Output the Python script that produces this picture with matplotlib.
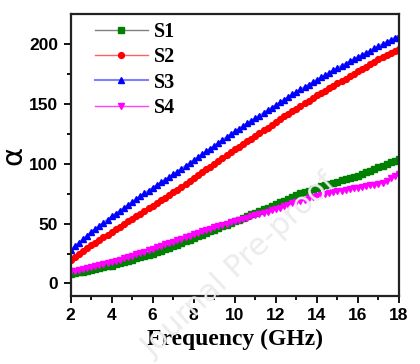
import matplotlib.pyplot as plt
import numpy as np

freq = np.arange(2.0, 18.01, 0.2)

s1 = [8, 8.6, 9.2, 9.8, 10.4, 11, 11.8, 12.6, 13.4, 14.2,
      15, 16, 17, 18, 19, 20, 21, 22, 23, 24,
      25, 26.2, 27.4, 28.6, 29.8, 31, 32.4, 33.8, 35.2, 36.6,
      38, 39.4, 40.8, 42.2, 43.6, 45, 46.4, 47.8, 49.2, 50.6,
      52, 53.4, 54.8, 56.2, 57.6, 59, 60.4, 61.8, 63.2, 64.6,
      66, 67.6, 69.2, 70.8, 72.4, 74, 75.2, 76.4, 77.6, 78.8,
      80, 81, 82, 83, 84, 85, 86, 87, 88, 89,
      90, 91.4, 92.8, 94.2, 95.6, 97, 98.4, 99.8, 101.2, 102.6,
      104]
s2 = [20, 22.4, 24.8, 27.2, 29.6, 32, 34.2, 36.4, 38.6, 40.8,
      43, 45.2, 47.4, 49.6, 51.8, 54, 56.2, 58.4, 60.6, 62.8,
      65, 67.2, 69.4, 71.6, 73.8, 76, 78.4, 80.8, 83.2, 85.6,
      88, 90.4, 92.8, 95.2, 97.6, 100, 102.4, 104.8, 107.2, 109.6,
      112, 114.2, 116.4, 118.6, 120.8, 123, 125.4, 127.8, 130.2, 132.6,
      135, 137.2, 139.4, 141.6, 143.8, 146, 148.2, 150.4, 152.6, 154.8,
      157, 159, 161, 163, 165, 167, 169, 171, 173, 175,
      177, 179, 181, 183, 185, 187, 188.8, 190.6, 192.4, 194.2,
      196]
s3 = [28, 31, 34, 37, 40, 43, 45.6, 48.2, 50.8, 53.4,
      56, 58.4, 60.8, 63.2, 65.6, 68, 70.4, 72.8, 75.2, 77.6,
      80, 82.2, 84.4, 86.6, 88.8, 91, 93.4, 95.8, 98.2, 100.6,
      103, 105.4, 107.8, 110.2, 112.6, 115, 117.4, 119.8, 122.2, 124.6,
      127, 129.2, 131.4, 133.6, 135.8, 138, 140.2, 142.4, 144.6, 146.8,
      149, 151.2, 153.4, 155.6, 157.8, 160, 162, 164, 166, 168,
      170, 172, 174, 176, 178, 180, 181.8, 183.6, 185.4, 187.2,
      189, 190.8, 192.6, 194.4, 196.2, 198, 199.8, 201.6, 203.4, 205.2,
      207]
s4 = [10, 10.8, 11.6, 12.4, 13.2, 14, 14.8, 15.6, 16.4, 17.2,
      18, 19, 20, 21, 22, 23, 24.2, 25.4, 26.6, 27.8,
      29, 30.2, 31.4, 32.6, 33.8, 35, 36.2, 37.4, 38.6, 39.8,
      41, 42.2, 43.4, 44.6, 45.8, 47, 48, 49, 50, 51,
      52, 53, 54, 55, 56, 57, 58, 59, 60, 61,
      62, 63.2, 64.4, 65.6, 66.8, 68, 69, 70, 71, 72,
      73, 73.8, 74.6, 75.4, 76.2, 77, 77.6, 78.2, 78.8, 79.4,
      80, 80.6, 81.2, 81.8, 82.4, 83, 84, 85.8, 87.8, 89.6,
      91]

fig = plt.figure(figsize=(4.2, 3.64), dpi=100)
ax = fig.add_axes([0.168, 0.187, 0.782, 0.774])

ax.plot(freq, s1, color='#808080', lw=1, marker='s', ms=3.8, mfc='#008000', mec='#008000', label='S1')
ax.plot(freq, s2, color='#ff6060', lw=1, marker='o', ms=4.2, mfc='red', mec='red', label='S2')
ax.plot(freq, s3, color='#8080ff', lw=1.5, marker='^', ms=4.5, mfc='blue', mec='blue', label='S3')
ax.plot(freq, s4, color='#ff40ff', lw=1, marker='v', ms=4.5, mfc='magenta', mec='magenta', label='S4')

ax.set_xlim(2, 18)
ax.set_ylim(-10.4, 224.8)
ax.set_xticks(np.arange(2, 19, 2))
ax.set_xticks(np.arange(3, 18, 2), minor=True)
ax.set_yticks(np.arange(0, 201, 50))
ax.set_yticks(np.arange(25, 201, 50), minor=True)
ax.tick_params(which='major', direction='out', length=5, width=1.3, pad=4)
ax.tick_params(which='minor', direction='out', length=3, width=1.3)
for lab in ax.get_xticklabels() + ax.get_yticklabels():
    lab.set_family('Liberation Sans')
    lab.set_fontweight('bold')
    lab.set_fontsize(12.5)
for sp in ax.spines.values():
    sp.set_linewidth(1.6)
    sp.set_color('#222222')

ax.set_xlabel('Frequency (GHz)', family='Liberation Serif', fontweight='bold', fontsize=17, labelpad=4)
ax.set_ylabel('α', family='DejaVu Sans', fontsize=21)
ax.yaxis.set_label_coords(-0.13, 0.5)

leg = ax.legend(loc='upper left', frameon=False, bbox_to_anchor=(0.02, 1.035),
                prop={'family': 'Liberation Serif', 'weight': 'bold', 'size': 14.5},
                handlelength=2.6, labelspacing=0.25, handletextpad=0.3)

fig.text(0.57, 0.27, 'Journal Pre-proof', fontsize=22, color='#ececec', rotation=43,
         ha='center', va='center', zorder=0, family='DejaVu Sans')

fig.savefig('out.png', dpi=100)
